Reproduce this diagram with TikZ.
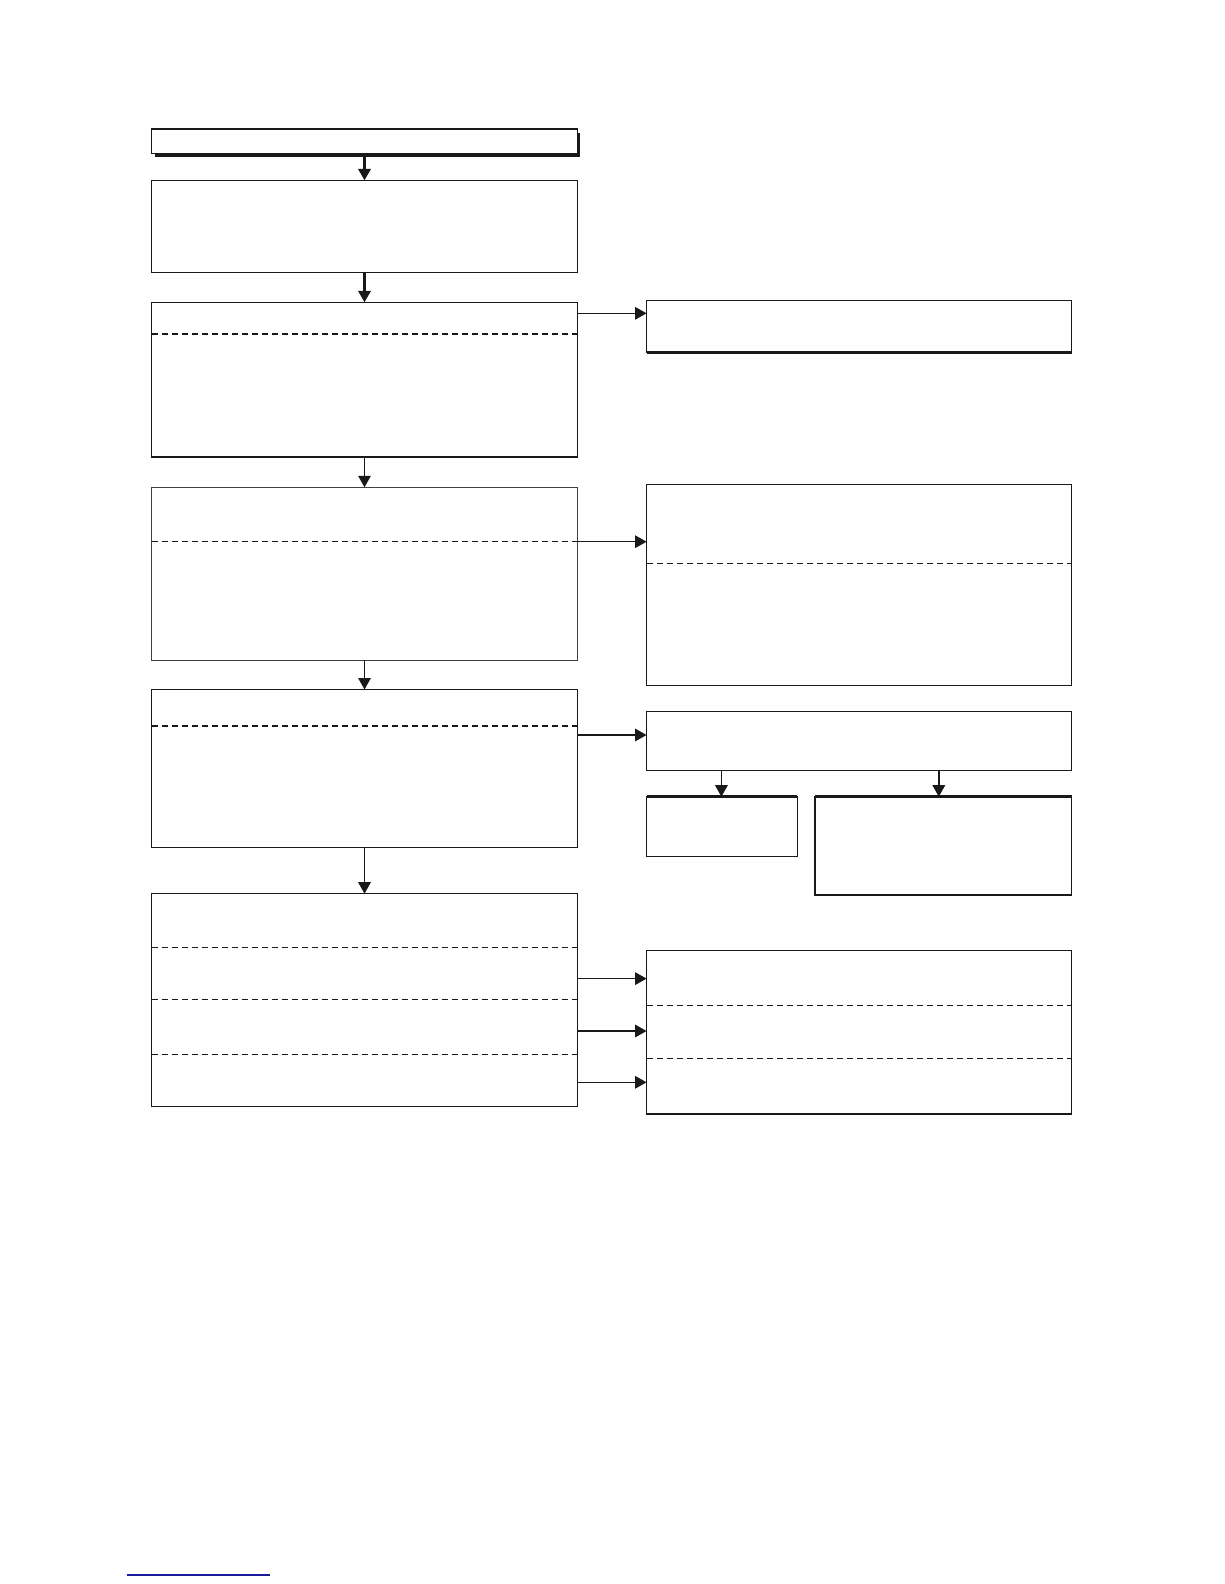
\documentclass[tikz,border=0pt]{standalone}
\usetikzlibrary{arrows.meta,shadows}
\definecolor{navyline}{RGB}{25,25,155}
\tikzset{
  box/.style={draw=black!90, line width=1.4pt, fill=white, rectangle, inner sep=0pt, outer sep=0pt, anchor=north west},
  lbox/.style={box, minimum width=425.6pt},
  rbox/.style={box, minimum width=425pt},
  arr/.style={draw=black!90, line width=1.4pt, -{Triangle[length=11.5pt,width=12.5pt]}},
  sep/.style={draw=black!90, line width=1.1pt, dash pattern=on 6pt off 4pt},
  heavy/.style={draw=black!90, line width=2.8pt}
}
\begin{document}
\begin{tikzpicture}[x=1pt,y=-1pt]
\useasboundingbox (0,0) rectangle (1224,1584);
% left column
\node[lbox, minimum height=24.3pt,
      drop shadow={shadow xshift=3pt, shadow yshift=-3.5pt, fill=black!90, opacity=1}] (h) at (151.7,129.2) {};
\node[lbox, minimum height=92pt] (b2) at (151.7,180.3) {};
\node[lbox, minimum height=154.7pt] (b3) at (151.7,302.3) {};
\node[lbox, draw=black!75, minimum height=172.9pt] (b4) at (151.7,487.3) {};
\node[lbox, minimum height=157.7pt] (b5) at (151.7,689.5) {};
\node[lbox, minimum height=212.5pt] (b6) at (151.7,893.7) {};
% right column
\node[rbox, minimum height=52pt] (r1) at (646.6,300.3) {};
\node[rbox, minimum height=201.2pt] (r2) at (646.6,484.3) {};
\node[rbox, minimum height=58.6pt] (r3) at (646.6,711.7) {};
\node[box, minimum width=150.6pt, minimum height=59.6pt] (r3a) at (646.6,796.7) {};
\node[box, minimum width=256.7pt, minimum height=98.1pt] (r3b) at (814.9,796.7) {};
\node[rbox, minimum height=163.7pt] (r4) at (646.6,950.3) {};
% heavier edges
\draw[heavy] (r1.south west) -- (r1.south east);
\draw[heavy] (r3a.north west) -- (r3a.north east);
\draw[heavy] (r3b.north west) -- (r3b.north east);
% dashed separators
\draw[sep] ([yshift=-31.7pt]b3.north west) -- ([yshift=-31.7pt]b3.north east);
\draw[sep] ([yshift=-54pt]b4.north west) -- ([yshift=-54pt]b4.north east);
\draw[sep, line width=1.8pt] ([yshift=-36.4pt]b5.north west) -- ([yshift=-36.4pt]b5.north east);
\draw[sep] ([yshift=-53.6pt]b6.north west) -- ([yshift=-53.6pt]b6.north east);
\draw[sep] ([yshift=-106.2pt]b6.north west) -- ([yshift=-106.2pt]b6.north east);
\draw[sep] ([yshift=-160.7pt]b6.north west) -- ([yshift=-160.7pt]b6.north east);
\draw[sep] ([yshift=-78.9pt]r2.north west) -- ([yshift=-78.9pt]r2.north east);
\draw[sep] ([yshift=-55.6pt]r4.north west) -- ([yshift=-55.6pt]r4.north east);
\draw[sep] ([yshift=-108pt]r4.north west) -- ([yshift=-108pt]r4.north east);
% vertical arrows
\draw[arr, line width=2.2pt] (h.south) -- (b2.north);
\draw[arr, line width=2.2pt] (b2.south) -- (b3.north);
\draw[arr] (b3.south) -- (b4.north);
\draw[arr] (b4.south) -- (b5.north);
\draw[arr] (b5.south) -- (b6.north);
\coordinate (d1) at ([xshift=74.8pt]r3.south west);
\coordinate (d2) at ([xshift=292.2pt]r3.south west);
\draw[arr] (d1) -- (d1 |- r3a.north);
\draw[arr] (d2) -- (d2 |- r3b.north);
% horizontal arrows
\coordinate (a3) at ([yshift=-11pt]b3.north east);
\draw[arr] (a3) -- (a3 -| r1.west);
\coordinate (a4) at ([yshift=-54.4pt]b4.north east);
\draw[arr] (a4) -- (a4 -| r2.west);
\coordinate (a5) at ([yshift=-45.5pt]b5.north east);
\draw[arr] (a5) -- (a5 -| r3.west);
\coordinate (a6) at ([yshift=-84.9pt]b6.north east);
\draw[arr] (a6) -- (a6 -| r4.west);
\coordinate (a7) at ([yshift=-137.3pt]b6.north east);
\draw[arr] (a7) -- (a7 -| r4.west);
\coordinate (a8) at ([yshift=-188.6pt]b6.north east);
\draw[arr] (a8) -- (a8 -| r4.west);
% footer rule
\draw[navyline, line width=1.6pt] (127,1575.2) -- (269.5,1575.2);
\end{tikzpicture}
\end{document}
